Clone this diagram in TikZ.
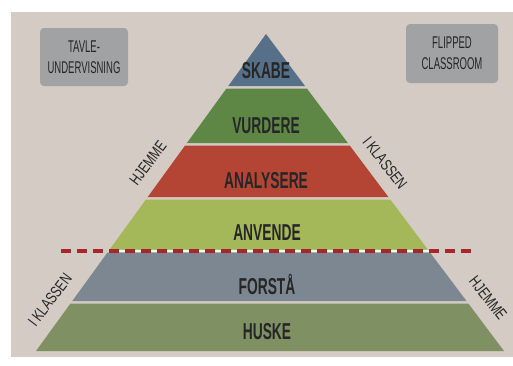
\documentclass[tikz,border=0pt]{standalone}
\usepackage{fontspec}
\setmainfont{Liberation Sans}
\newfontfamily\bandfont{Liberation Sans}[FakeStretch=0.6]
\newfontfamily\boxfont{Liberation Sans}[FakeStretch=0.56]
\newfontfamily\sidefont{Liberation Sans}[FakeStretch=0.74]
\usetikzlibrary{calc}

\definecolor{paper}{HTML}{D3CBC4}
\definecolor{boxgrey}{HTML}{A0A2A4}
\definecolor{inkgrey}{HTML}{262626}
\definecolor{skabe}{HTML}{56708A}
\definecolor{vurdere}{HTML}{5E8746}
\definecolor{analysere}{HTML}{B44535}
\definecolor{anvende}{HTML}{A4B859}
\definecolor{forstaa}{HTML}{7D8791}
\definecolor{huske}{HTML}{7F9062}
\definecolor{dashred}{HTML}{A8262A}

\tikzset{
    level/.style={text=inkgrey, font=\bandfont\bfseries\fontsize{23}{26}\selectfont},
    side/.style={text=inkgrey, font=\sidefont\fontsize{16}{18}\selectfont},
    methodbox/.style={fill=boxgrey, rounded corners=4pt, align=center,
        text=inkgrey, font=\boxfont\fontsize{17}{21}\selectfont},
    cutline/.style={dashred, line width=4pt, dash pattern=on 10pt off 6pt}
}

\begin{document}
\begin{tikzpicture}[x=1pt, y=-1pt]

    \def\apexy{34}
    \def\basey{351}
    \def\cuty{251}

    \useasboundingbox (0,0) rectangle (513,365);
    \fill[white] (0,0) rectangle (513,365);
    \fill[paper] (11,12) rectangle (513,357);

    \coordinate (apex) at (266, \apexy);
    \coordinate (baseL) at (36, \basey);
    \coordinate (baseR) at (504, \basey);

    % one horizontal slice of the pyramid, from height #1 down to #2
    \def\band#1#2#3{
        \fill[#3]
                 ($(apex)!{(#1-\apexy)/(\basey-\apexy)}!(baseL)$)
              -- ($(apex)!{(#1-\apexy)/(\basey-\apexy)}!(baseR)$)
              -- ($(apex)!{(#2-\apexy)/(\basey-\apexy)}!(baseR)$)
              -- ($(apex)!{(#2-\apexy)/(\basey-\apexy)}!(baseL)$) -- cycle;
    }

    \band{34}{86}{skabe}
    \band{88.5}{143}{vurdere}
    \band{145.5}{197}{analysere}
    \band{199.5}{249.5}{anvende}
    \band{252.5}{301}{forstaa}
    \band{303.5}{351}{huske}

    % Niveauer
    \node[level] (skabe) at (266, 71) {SKABE};
    \node[level] (vurdere) at (266, 126) {VURDERE};
    \node[level] (analysere) at (266, 181) {ANALYSERE};
    \node[level] (anvende) at (267, 233) {ANVENDE};
    \node[level] (forstaa) at (267, 284) {FORSTÅ};
    \node[level] (huske) at (267, 332) {HUSKE};

    % skillelinje
    \coordinate (cutL) at (61, \cuty);
    \coordinate (cutR) at (477, \cuty);
    \coordinate (gapL) at ($(apex)!{(\cuty-\apexy)/(\basey-\apexy)}!(baseL)$);
    \coordinate (gapR) at ($(apex)!{(\cuty-\apexy)/(\basey-\apexy)}!(baseR)$);
    \draw[white!80!paper, line width=2pt] (gapL) -- (gapR);
    \draw[cutline] (cutL) -- (cutR);

    % Sider
    \node[side, rotate=53] (hjemmeTop) at (148, 163) {HJEMME};
    \node[side, rotate=-52] (klassenTop) at (385, 163) {I KLASSEN};
    \node[side, rotate=53] (klassenBot) at (50, 300) {I KLASSEN};
    \node[side, rotate=-52] (hjemmeBot) at (488, 298) {HJEMME};

    % Bokse
    \node[methodbox, minimum width=88pt, minimum height=58pt] (tavle) at (84, 57)
        {TAVLE-\\UNDERVISNING};
    \node[methodbox, minimum width=92pt, minimum height=59pt] (flipped) at (452, 53.5)
        {FLIPPED\\CLASSROOM};

\end{tikzpicture}
\end{document}
